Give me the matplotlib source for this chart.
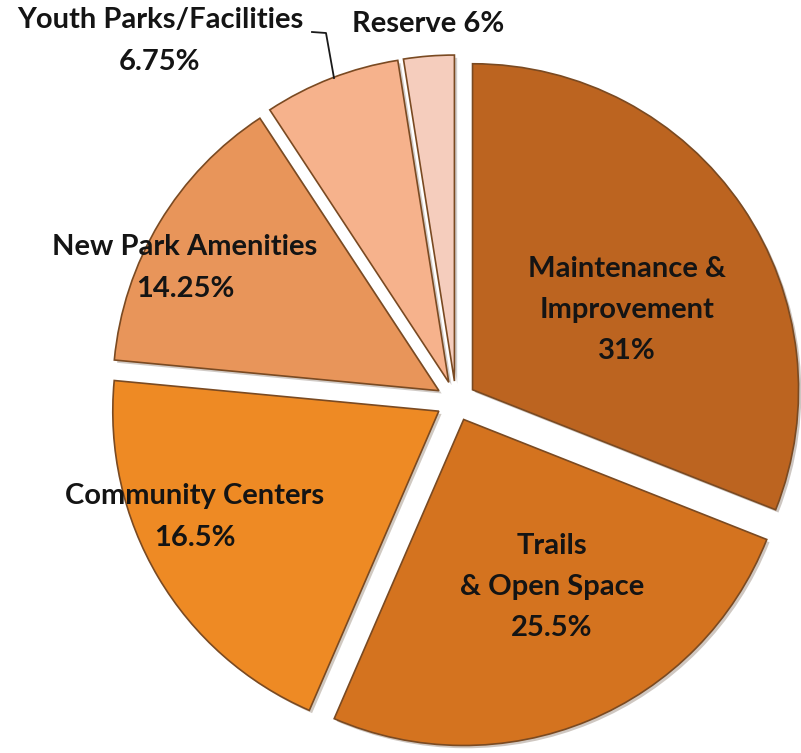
import matplotlib.pyplot as plt
import matplotlib.patheffects as pe
import numpy as np

# slice sizes as drawn (angles)
sizes = [31, 25.5, 20, 14.25, 6.75, 2.5]
labels = ['Maintenance &\nImprovement\n31%', 'Trails\n& Open Space\n25.5%',
          'Community Centers\n16.5%', 'New Park Amenities\n14.25%',
          'Youth Parks/Facilities\n6.75%', 'Reserve 6%']
colors = ['#BC6420', '#D4731F', '#EE8A24', '#E8955A', '#F6B28C', '#F5CDBD']

W, H = 801, 753
fig = plt.figure(figsize=(W / 100, H / 100), dpi=100)
ax = fig.add_axes([0, 0, 1, 1])

cx, cy, r = 456, H - 401, 326
# explode is in data units here (pixels), not a fraction of the radius
wedges, _ = ax.pie(sizes, colors=colors, startangle=90, counterclock=False,
                   explode=[20] * len(sizes), radius=r, center=(cx, cy),
                   wedgeprops=dict(edgecolor='#7a4a22', linewidth=1.2),
                   frame=True)
for w in wedges:
    w.set_path_effects([pe.SimplePatchShadow(offset=(2, -2), alpha=0.25),
                        pe.Normal()])
ax.set_xlim(0, W)
ax.set_ylim(0, H)
ax.set_aspect('equal')
ax.axis('off')

font = dict(family=['Lato', 'DejaVu Sans'], fontweight='bold',
            fontsize=21, color='#141414', ha='center', va='center',
            linespacing=1.72)

# label positions in pixels (x, y from top)
pos = [(627, 310), (552, 587), (195, 517), (185, 268), (160, 41), (428, 24)]
for lab, (x, y) in zip(labels, pos):
    ax.text(x, H - y, lab, **font)

# leader line for Youth Parks/Facilities
ax.plot([312, 326, 334], [H - 32, H - 33, H - 78], color='#1a1a1a', lw=1.3)

fig.savefig('out.png', dpi=100)
